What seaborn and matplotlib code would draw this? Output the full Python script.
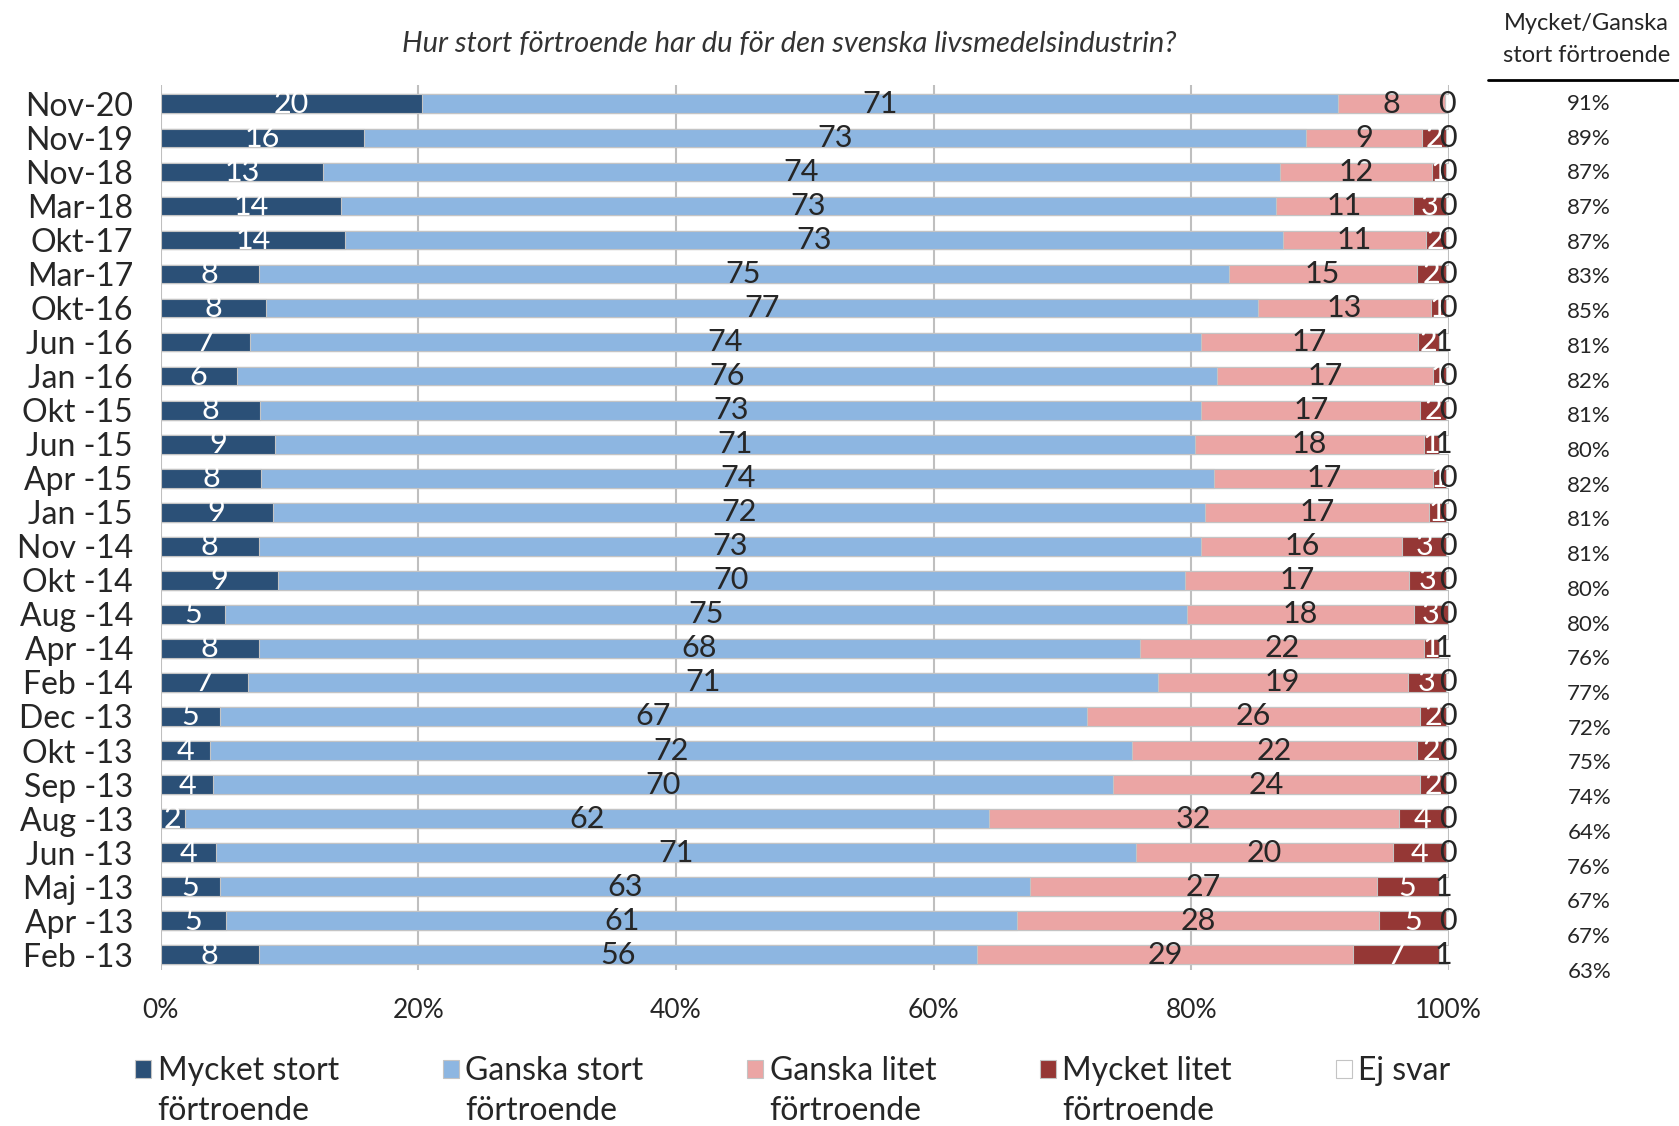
"""Förtroende för den svenska livsmedelsindustrin: 100 % staplade liggande staplar."""

import matplotlib.pyplot as plt
import matplotlib.transforms as mtransforms
from matplotlib.lines import Line2D
from matplotlib.patches import Patch
import seaborn as sns

sns.set_theme(style="white")
plt.rcParams["font.family"] = ["Lato", "DejaVu Sans"]

dates = ["Nov-20", "Nov-19", "Nov-18", "Mar-18", "Okt-17", "Mar-17", "Okt-16",
         "Jun -16", "Jan -16", "Okt -15", "Jun -15", "Apr -15", "Jan -15",
         "Nov -14", "Okt -14", "Aug -14", "Apr -14", "Feb -14", "Dec -13",
         "Okt -13", "Sep -13", "Aug -13", "Jun -13", "Maj -13", "Apr -13",
         "Feb -13"]

mycket_stort = [20.3, 15.8, 12.6, 14.0, 14.3, 7.6, 8.2, 6.9, 5.9, 7.7, 8.9, 7.8, 8.7,
                7.6, 9.1, 5.0, 7.6, 6.8, 4.6, 3.8, 4.1, 1.9, 4.3, 4.6, 5.1, 7.6]
ganska_stort = [71.1, 73.1, 74.3, 72.6, 72.8, 75.3, 77.0, 73.9, 76.1, 73.1, 71.4, 74.0, 72.4,
                73.2, 70.4, 74.7, 68.4, 70.6, 67.3, 71.6, 69.8, 62.4, 71.4, 62.9, 61.4, 55.8]
ganska_litet = [8.3, 9.0, 11.8, 10.6, 11.1, 14.6, 13.4, 16.8, 16.8, 17.0, 17.8, 17.0, 17.4,
                15.6, 17.4, 17.6, 22.1, 19.4, 25.9, 22.1, 23.9, 31.8, 20.0, 26.9, 28.1, 29.2]
mycket_litet = [0.0, 1.9, 1.1, 2.6, 1.6, 2.3, 1.2, 1.6, 1.0, 2.0, 1.1, 1.0, 1.3,
                3.4, 2.9, 2.6, 1.1, 3.0, 2.0, 2.3, 2.0, 3.7, 4.1, 4.8, 5.2, 6.6]
ej_svar = [0.3, 0.2, 0.2, 0.2, 0.2, 0.2, 0.2, 0.8, 0.2, 0.2, 0.8, 0.2, 0.2,
           0.2, 0.2, 0.1, 0.8, 0.2, 0.2, 0.2, 0.2, 0.2, 0.2, 0.8, 0.2, 0.8]

# Mycket/Ganska stort förtroende (högerkolumnen)
andel_stort = [91, 89, 87, 87, 87, 83, 85, 81, 82, 81, 80, 82, 81,
               81, 80, 80, 76, 77, 72, 75, 74, 64, 76, 67, 67, 63]

series_first = ["Mycket stort", "Ganska stort", "Ganska litet", "Mycket litet", "Ej svar"]
series_second = ["förtroende", "förtroende", "förtroende", "förtroende", ""]
series = [mycket_stort, ganska_stort, ganska_litet, mycket_litet, ej_svar]
colors = ["#2B5077", "#8DB6E1", "#EBA5A4", "#953735", "#FFFFFF"]
label_colors = ["white", "#262626", "#262626", "white", "#262626"]

text_col = "#262626"
edge_col = "#c4c4c4"

fig = plt.figure(figsize=(16.79, 11.26), dpi=100)
ax = fig.add_axes([0.0957, 0.1385, 0.8629 - 0.0957, 0.9244 - 0.1385])

# cumulative stacks, drawn from the widest (ends at 100) down to the first segment
cums = []
running = [0.0] * len(dates)
for vals in series:
    running = [r + v for r, v in zip(running, vals)]
    cums.append(running)

for k in range(len(series) - 1, -1, -1):
    sns.barplot(x=cums[k], y=dates, orient="h", color=colors[k], saturation=1,
                width=0.55, edgecolor=edge_col, linewidth=0.8, ax=ax)

# data labels centered on each segment
for k, vals in enumerate(series):
    for i, v in enumerate(vals):
        if v <= 0:
            continue
        start = cums[k][i] - v
        ax.text(start + v / 2, i, f"{round(v)}", ha="center", va="center",
                fontsize=22, color=label_colors[k])

ax.set_xlim(0, 100)
ax.set_ylim(25.45, -0.55)
ax.set_xticks(range(0, 101, 20))
ax.set_xticklabels([f"{t}%" for t in range(0, 101, 20)])
ax.set_xlabel("")
ax.set_ylabel("")
ax.tick_params(axis="x", length=0, pad=20, labelsize=19, labelcolor=text_col)
ax.tick_params(axis="y", length=0, pad=20, labelsize=23, labelcolor=text_col)
ax.xaxis.grid(True, color="#bfbfbf", linewidth=1.5)
ax.yaxis.grid(False)
ax.set_axisbelow(True)
for s in ax.spines.values():
    s.set_visible(False)

fig.text(0.470, 0.961, "Hur stort förtroende har du för den svenska livsmedelsindustrin?",
         ha="center", va="center", fontsize=21, style="italic", color="#333333")

# right-hand summary column
fig.text(0.945, 0.979, "Mycket/Ganska", ha="center", va="center", fontsize=17, color=text_col)
fig.text(0.945, 0.9506, "stort förtroende", ha="center", va="center", fontsize=17, color=text_col)
fig.add_artist(Line2D([0.886, 1.0], [0.9287, 0.9287], color="black", linewidth=2,
                      transform=fig.transFigure))
trans = mtransforms.blended_transform_factory(fig.transFigure, ax.transData)
for i, p in enumerate(andel_stort):
    ax.text(0.9465, i * 1.02, f"{p}%", transform=trans, ha="center", va="center",
            fontsize=16, color=text_col)

# legend: first line in the legend, second line placed under each entry
handles = [Patch(facecolor=c, edgecolor=edge_col, linewidth=0.8) for c in colors]
leg = fig.legend(handles, series_first, loc="center left", bbox_to_anchor=(0.0635, 0.0485),
                 ncol=5, frameon=False, fontsize=23, handlelength=0.5, handleheight=0.5,
                 handletextpad=0.2, columnspacing=3.25, labelcolor=text_col)
fig.canvas.draw()
fig_w = fig.bbox.width
for t, second in zip(leg.get_texts(), series_second):
    if not second:
        continue
    x0 = t.get_window_extent().x0 / fig_w
    fig.text(x0, 0.0135, second, ha="left", va="center", fontsize=23, color=text_col)

fig.savefig("out.png", dpi=100)
print("Saved out.png")
